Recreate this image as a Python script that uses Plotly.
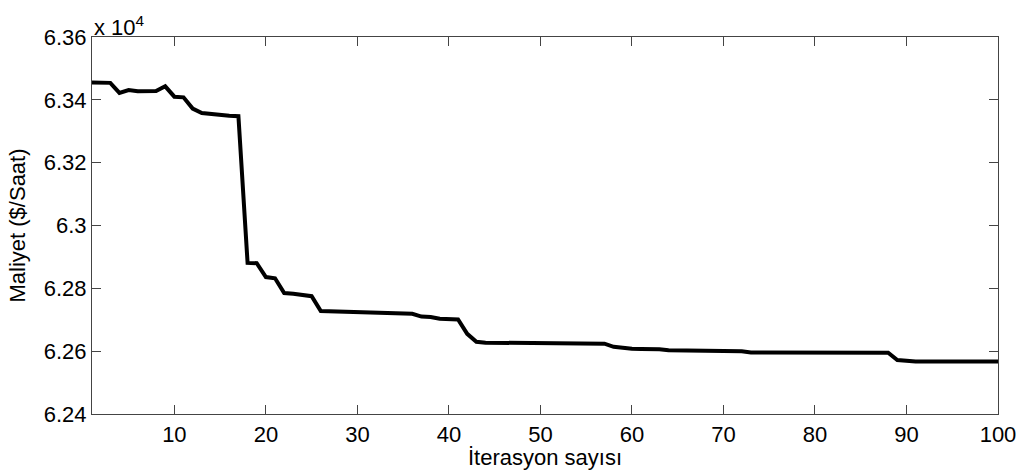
import plotly.graph_objects as go

# Iteration numbers and cost values (in units of 10^4 $/Saat)
iterations = list(range(1, 101))
cost = [
    6.3455, 6.3454, 6.3454, 6.3422, 6.3431, 6.3427, 6.3426, 6.3428, 6.3443, 6.3410,
    6.3408, 6.3372, 6.3358, 6.3354, 6.3350, 6.3349, 6.3348, 6.2881, 6.2880, 6.2836,
    6.2832, 6.2785, 6.2783, 6.2780, 6.2775, 6.2728, 6.2727, 6.2726, 6.2726, 6.2725,
    6.2725, 6.2725, 6.2724, 6.2722, 6.2721, 6.2719, 6.2710, 6.2709, 6.2703, 6.2702,
    6.2701, 6.2655, 6.2630, 6.2627, 6.2627, 6.2627, 6.2626, 6.2626, 6.2626, 6.2626,
    6.2625, 6.2625, 6.2625, 6.2625, 6.2624, 6.2624, 6.2624, 6.2614, 6.2610, 6.2608,
    6.2607, 6.2607, 6.2606, 6.2603, 6.2603, 6.2603, 6.2603, 6.2600, 6.2600, 6.2600,
    6.2600, 6.2600, 6.2596, 6.2596, 6.2596, 6.2596, 6.2596, 6.2596, 6.2596, 6.2596,
    6.2596, 6.2596, 6.2595, 6.2595, 6.2595, 6.2595, 6.2595, 6.2595, 6.2572, 6.2568,
    6.2567, 6.2567, 6.2567, 6.2567, 6.2567, 6.2567, 6.2567, 6.2567, 6.2567, 6.2567,
]

x_tickvals = [10, 20, 30, 40, 50, 60, 70, 80, 90, 100]
y_tickvals = [6.24, 6.26, 6.28, 6.30, 6.32, 6.34, 6.36]
y_ticktext = ["6.24", "6.26", "6.28", "6.3", "6.32", "6.34", "6.36"]

FONT = "Liberation Sans, Arial, sans-serif"

fig = go.Figure()
fig.add_trace(go.Scatter(
    x=iterations, y=cost, mode="lines",
    line=dict(color="black", width=4),
    showlegend=False,
))

axis_common = dict(
    showline=True, linecolor="#444", linewidth=1.2,
    mirror="ticks", ticks="inside", ticklen=9, tickcolor="#444",
    showgrid=False, zeroline=False, automargin=False,
    tickfont=dict(family=FONT, size=22, color="black"),
)

fig.update_layout(
    width=1024, height=470,
    margin=dict(l=92, r=26, t=37, b=56),
    paper_bgcolor="white", plot_bgcolor="white",
    xaxis=dict(range=[1, 100], tickvals=x_tickvals,
               title=dict(text="İterasyon sayısı", standoff=0,
                          font=dict(family=FONT, size=22, color="black")),
               **axis_common),
    yaxis=dict(range=[6.24, 6.36], tickvals=y_tickvals, ticktext=y_ticktext,
               title=dict(text="Maliyet ($/Saat)", standoff=11,
                          font=dict(family=FONT, size=22, color="black")),
               **axis_common),
    annotations=[dict(
        text="x 10<sup>4</sup>", xref="paper", yref="paper",
        x=0, y=1, xanchor="left", yanchor="bottom", showarrow=False,
        font=dict(family=FONT, size=22, color="black"), yshift=-5,
    )],
)

fig.write_html("out.html")
